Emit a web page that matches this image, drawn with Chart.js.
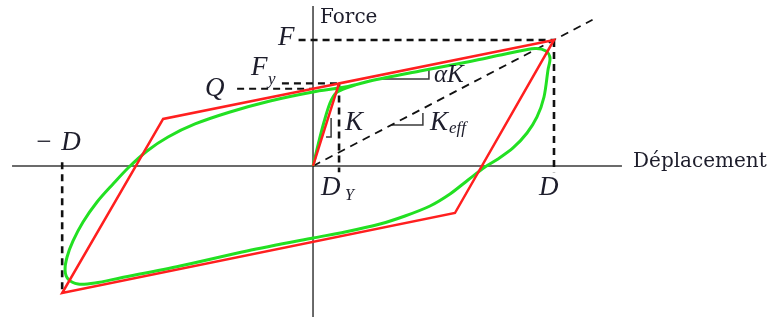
<!DOCTYPE html>
<html lang="fr">
<head>
<meta charset="utf-8">
<title>Boucle d'hystérésis</title>
<script src="https://cdn.jsdelivr.net/npm/chart.js@4.4.1/dist/chart.umd.min.js"></script>
<style>
  html, body { margin: 0; padding: 0; background: #fff; }
  #wrap { width: 774px; height: 320px; }
</style>
</head>
<body>
<div id="wrap"><canvas id="hysteresis" width="774" height="320"></canvas></div>
<script>
// Valeurs caractéristiques (déplacement en x, force en y, unités relatives)
const D = 100, F = 100;
const Dy = 10.8, Fy = 65.5;
const Q = 61.3;
const Dneg = -104.1, Fneg = -100.8;

// Boucle bilinéaire (rouge)
const bilinX = [0, Dy, D, 58.9, Dneg, -62.2, Dy];
const bilinY = [0, Fy, F, -37.3, Fneg, 37.3, Fy];

// Boucle réelle, courbe lissée (verte) : chargement initial puis cycle complet
const lisseX = [0, 2.07, 4.56, 7.05, 9.54, 13.69, 23.65,
  44.40, 65.15, 81.74, 92.12, 96.68, 98.34,
  97.51, 95.85, 92.95, 88.80, 82.99, 76.76, 71.37, 64.32, 56.85, 48.55, 38.17, 27.80, 13.28, 0,
  -27.39, -55.19, -80.08, -90.46, -97.51, -101.66, -102.90,
  -102.07, -99.59, -95.44, -89.63, -82.99, -76.76, -68.88, -60.17, -48.96, -34.44, -17.84, 0, 13.28, 23.65];
const lisseY = [0, 16.66, 34.91, 49.99, 57.92, 61.89, 67.44,
  75.38, 82.92, 89.66, 93.23, 91.25, 85.69,
  76.17, 54.75, 38.88, 26.18, 14.28, 5.55, -0.79, -11.11, -22.22, -31.74, -39.67, -46.02, -52.37, -57.13,
  -67.44, -79.35, -88.87, -92.83, -93.63, -89.66, -82.52,
  -72.21, -59.51, -44.43, -28.56, -14.28, -1.59, 11.90, 23.01, 33.33, 42.85, 51.58, 58.72, 62.68, 67.44];

// Axes
const axeX = [[-124.9, 0], [128.2, 0]];
const axeY = [[0, 127], [0, -119.8]];

// Triangles de pente
const penteAlphaK = [[28.6, 69.0], [48.1, 69.0], [48.1, 77.8]];
const penteKeff = [[32.8, 32.5], [45.6, 32.5], [45.6, 42.1]];
const penteK = [[5.4, 23.0], [7.5, 23.0], [7.5, 38.1]];

const pts = (xs, ys) => xs.map((v, i) => ({ x: v, y: ys[i] }));
const seg = arr => arr.map(p => ({ x: p[0], y: p[1] }));

const tirets = (data, width, dash) => ({
  data, showLine: true, borderColor: '#111', borderWidth: width, borderDash: dash,
  pointRadius: 0, fill: false, tension: 0, order: 5
});
const trait = data => ({
  data, showLine: true, borderColor: '#3a3a3a', borderWidth: 1.5,
  pointRadius: 0, fill: false, tension: 0, order: 6
});

const maths = 'italic 27px "Liberation Serif"';
const indice = 'italic 17px "Liberation Serif"';
const etiquettes = [
  { t: 'Force', x: 2.9, y: 113.5, font: '20px "DejaVu Serif"' },
  { t: 'Déplacement', x: 132.8, y: -0.8, font: '20px "DejaVu Serif"' },
  { t: 'F', x: -14.5, y: 96.0, font: maths },
  { t: 'F', x: -25.7, y: 72.2, font: maths },
  { t: 'y', x: -18.7, y: 64.8, font: indice },
  { t: 'Q', x: -44.8, y: 55.5, font: maths },
  { t: '\u2212', x: -114.9, y: 12.7, font: '27px "Liberation Serif"' },
  { t: 'D', x: -104.5, y: 12.7, font: maths },
  { t: '\u03b1K', x: 50.2, y: 66.7, font: 'italic 25px "Liberation Serif"' },
  { t: 'K', x: 13.3, y: 28.6, font: maths },
  { t: 'K', x: 48.5, y: 28.6, font: maths },
  { t: 'eff', x: 56.4, y: 26.2, font: indice },
  { t: 'D', x: 3.3, y: -23.0, font: maths },
  { t: 'Y', x: 13.3, y: -27.0, font: 'italic 16px "Liberation Serif"' },
  { t: 'D', x: 93.8, y: -23.0, font: maths }
];

const textePlugin = {
  id: 'etiquettes',
  afterDatasetsDraw(chart) {
    const { ctx, scales: { x, y } } = chart;
    ctx.save();
    ctx.fillStyle = '#1d1d2b';
    ctx.textBaseline = 'alphabetic';
    etiquettes.forEach(e => {
      ctx.font = e.font;
      ctx.fillText(e.t, x.getPixelForValue(e.x), y.getPixelForValue(e.y));
    });
    ctx.restore();
  }
};

new Chart(document.getElementById('hysteresis'), {
  type: 'scatter',
  data: {
    datasets: [
      {
        data: pts(bilinX, bilinY), showLine: true, borderColor: '#ff1f1f', borderWidth: 2.5,
        pointRadius: 0, fill: false, tension: 0, order: 1
      },
      {
        data: pts(lisseX, lisseY), showLine: true, borderColor: '#22e022', borderWidth: 3,
        pointRadius: 0, fill: false, tension: 0.3, order: 2
      },
      tirets(seg([[-6, F], [D, F]]), 2.5, [7, 5]),
      tirets(seg([[D, F], [D, -5]]), 2.6, [7, 5]),
      tirets(seg([[-31.5, Q], [0, Q]]), 2.2, [7, 5]),
      tirets(seg([[-12.9, Fy], [Dy, Fy]]), 2.2, [7, 5]),
      tirets(seg([[Dy, Fy], [Dy, -5]]), 2.6, [7, 5]),
      tirets(seg([[Dneg, 3], [Dneg, Fneg]]), 2.6, [7, 5]),
      tirets(seg([[0, 0], [1.16 * D, 1.16 * F]]), 1.8, [8, 6]),
      trait(seg(axeX)),
      trait(seg(axeY)),
      trait(seg(penteAlphaK)),
      trait(seg(penteKeff)),
      trait(seg(penteK))
    ]
  },
  options: {
    responsive: false,
    animation: false,
    layout: { padding: 0 },
    plugins: {
      legend: { display: false },
      tooltip: { enabled: false }
    },
    scales: {
      x: { type: 'linear', min: -129.9, max: 191.3, display: false },
      y: { type: 'linear', min: -122.2, max: 131.7, display: false }
    }
  },
  plugins: [textePlugin]
});
</script>
</body>
</html>
